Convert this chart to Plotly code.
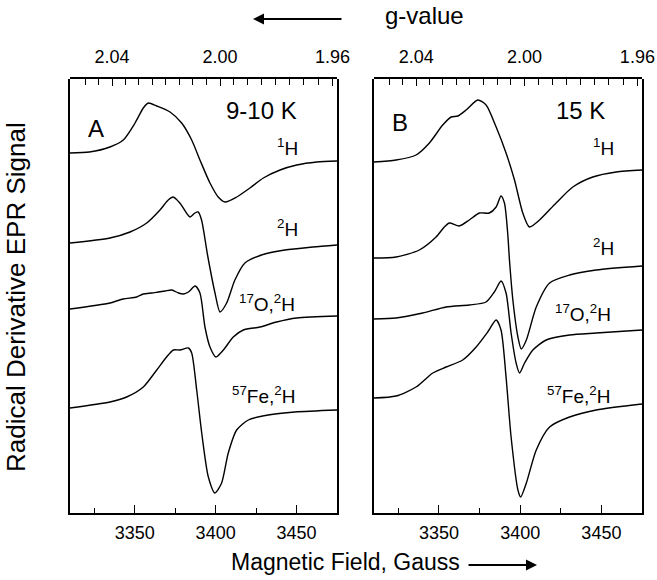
import plotly.graph_objects as go

# ---------------- data ----------------
# Panel A (9-10 K): magnetic field (G) and signal (arb. units, stacked)
A_1H_B = [3310, 3322, 3334.7, 3342.9, 3350.2, 3355.3, 3358.4, 3363.6, 3371.8, 3379.0, 3385.2, 3390.3,
          3396.5, 3401.6, 3405.8, 3413.0, 3421.2, 3429.5, 3439.8, 3450.1, 3462.5, 3475]
A_1H_S = [360, 361, 366, 373, 390, 405, 410, 407, 401, 390, 373, 353, 330, 316, 311, 316, 325, 335,
          343, 348, 351, 352]

A_2H_B = [3310, 3334.7, 3347.1, 3357.4, 3365.6, 3370.7, 3373.8, 3377.9, 3384.1, 3387.2, 3389.2, 3391.3,
          3395.0, 3399.6, 3402.7, 3406.8, 3411.9, 3418.1, 3428.4, 3442.8, 3460, 3475]
A_2H_S = [270, 275, 281, 290, 303, 313, 316, 310, 296, 300, 301, 293, 258, 220, 201, 210, 233,
          250, 258, 263, 266, 268]

A_17O_B = [3310, 3334.7, 3342.9, 3351.2, 3355.3, 3360.5, 3364.6, 3368.8, 3372.9, 3377.0, 3380.1, 3383.2,
           3387.3, 3390.3, 3393.4, 3396.5, 3400.2, 3404.8, 3410.9, 3417.1, 3427.4, 3437.7, 3450.1, 3475]
A_17O_S = [204, 210, 214, 216, 219, 220, 221, 222, 223, 220, 219, 221, 227, 220, 186, 166, 156, 163,
           176, 183, 186, 191, 195, 197]

A_57Fe_B = [3310, 3334.7, 3345.0, 3355.3, 3363.6, 3369.7, 3373.9, 3378.0, 3383.2, 3385.2, 3388.3, 3391.4,
            3395.5, 3399.6, 3403.7, 3407.8, 3413.0, 3420.2, 3432.5, 3449.0, 3475]
A_57Fe_S = [105, 111, 116, 126, 143, 156, 163, 163, 165, 160, 123, 80, 36, 20, 30, 60, 83, 93, 98,
            101, 103]

# Panel B (15 K)
B_1H_B = [3310, 3323.6, 3335.9, 3344.1, 3352.3, 3357.5, 3361.6, 3366.7, 3373.9, 3379.0, 3385.2, 3391.3,
          3396.5, 3401.6, 3405.7, 3411.9, 3422.1, 3432.4, 3444.7, 3459.1, 3475]
B_1H_S = [351, 353, 358, 370, 388, 396, 397, 403, 413, 408, 386, 360, 333, 300, 286, 293, 310, 326,
          336, 341, 343]

B_2H_B = [3310, 3323.6, 3337.9, 3348.2, 3353.3, 3356.4, 3362.5, 3368.7, 3374.9, 3381.0, 3385.2, 3388.2,
          3390.3, 3392.3, 3393.4, 3395.5, 3398.6, 3400.7, 3403.8, 3409.9, 3418.1, 3430.4, 3446.8, 3475]
B_2H_S = [255, 256, 263, 276, 286, 290, 287, 293, 300, 300, 306, 317, 310, 280, 253, 213, 176, 164,
          173, 206, 230, 238, 243, 247]

B_17O_B = [3310, 3323.6, 3340.0, 3354.4, 3368.7, 3379.0, 3384.1, 3388.2, 3391.3, 3394.4, 3397.5, 3399.6,
           3402.7, 3407.8, 3416.0, 3430.4, 3446.8, 3475]
B_17O_S = [194, 195, 200, 206, 208, 211, 221, 232, 220, 180, 150, 140, 150, 163, 173, 178, 180, 183]

B_57Fe_B = [3310, 3323.6, 3335.9, 3346.2, 3354.4, 3364.6, 3372.9, 3380.0, 3385.2, 3388.2, 3391.3, 3394.4,
            3398.6, 3400.3, 3403.8, 3409.9, 3418.1, 3430.4, 3446.8, 3475]
B_57Fe_S = [115, 117, 126, 140, 146, 153, 166, 181, 193, 183, 136, 76, 23, 16, 30, 63, 86, 96, 103, 109]

panel_traces = {
    "A": [(A_1H_B, A_1H_S), (A_2H_B, A_2H_S), (A_17O_B, A_17O_S), (A_57Fe_B, A_57Fe_S)],
    "B": [(B_1H_B, B_1H_S), (B_2H_B, B_2H_S), (B_17O_B, B_17O_S), (B_57Fe_B, B_57Fe_S)],
}

field_range = [3310, 3475]
field_ticks = [3350, 3400, 3450]
field_minor = [3325, 3375, 3425]
g_labels = [2.04, 2.00, 1.96]
g_minor = [2.05, 2.045, 2.035, 2.03, 2.025, 2.02, 2.015, 2.01, 2.005,
           1.995, 1.99, 1.985, 1.98, 1.975, 1.97, 1.965]
g_B_product = 2.04 * 3336.0   # g * B (G) at the microwave frequency used

trace_labels = ["<sup>1</sup>H", "<sup>2</sup>H", "<sup>17</sup>O,<sup>2</sup>H", "<sup>57</sup>Fe,<sup>2</sup>H"]
label_pos = {"A": [(3444.7, 366), (3444.7, 285), (3431.6, 210), (3429.3, 118)],
             "B": [(3451.3, 366), (3451.0, 266), (3438.9, 200), (3435.8, 118)]}
panel_letters = ["A", "B"]
panel_letter_pos = [(3326, 385), (3326, 391)]
temps = ["9-10 K", "15 K"]
temp_pos = [(3428.5, 403), (3437, 403)]

# ---------------- figure ----------------
W, H = 657, 580
L, R, T, Bm = 70, 15, 79, 67
PW, PH = W - L - R, H - T - Bm
fig = go.Figure()

FONT = "Liberation Sans, Arial, sans-serif"
xdom = {"A": [0, 267 / PW], "B": [304 / PW, 1]}
axis_ids = {"A": ("x", "y", "x3", "y3"), "B": ("x2", "y2", "x4", "y4")}

for p in ["A", "B"]:
    xa, ya, xt, yt = axis_ids[p]
    for Bv, Sv in panel_traces[p]:
        fig.add_trace(go.Scatter(x=Bv, y=Sv, mode="lines", xaxis=xa, yaxis=ya,
                                 line=dict(color="black", width=1.4, shape="spline", smoothing=0.7),
                                 showlegend=False, hoverinfo="skip"))
    fig.add_trace(go.Scatter(x=[field_range[0]], y=[None], xaxis=xt, yaxis=yt, mode="lines",
                             showlegend=False, hoverinfo="skip"))

g_tickvals = [g_B_product / g for g in g_labels]
g_ticktext = ["%.2f" % g for g in g_labels]
g_minorvals = [g_B_product / g for g in g_minor]

common_x = dict(range=field_range, showline=True, linecolor="black", linewidth=1.6,
                ticks="inside", ticklen=8, tickwidth=1.4, tickcolor="black", showgrid=False,
                zeroline=False, tickfont=dict(family=FONT, size=18, color="black"),
                tickvals=field_ticks, ticklabelstandoff=3,
                minor=dict(tickvals=field_minor, ticks="inside", ticklen=5, tickwidth=1.4,
                           tickcolor="black", showgrid=False))
common_top = dict(range=field_range, showline=True, linecolor="black", linewidth=1.6,
                  ticks="inside", ticklen=7, tickwidth=1.4, tickcolor="black", showgrid=False,
                  zeroline=False, side="top", tickfont=dict(family=FONT, size=18, color="black"),
                  tickmode="array", tickvals=g_tickvals, ticktext=g_ticktext, ticklabelstandoff=7,
                  minor=dict(tickmode="array", tickvals=g_minorvals, ticks="inside", ticklen=6,
                             tickwidth=1.4, tickcolor="black", showgrid=False))
common_y = dict(range=[0, PH], showline=True, linecolor="black", linewidth=1.6, mirror=True,
                ticks="", showticklabels=False, showgrid=False, zeroline=False, fixedrange=True)
hidden_y = dict(range=[0, 1], showline=False, ticks="", showticklabels=False, showgrid=False,
                zeroline=False, fixedrange=True)

fig.update_layout(
    width=W, height=H, margin=dict(l=L, r=R, t=T, b=Bm, autoexpand=False),
    plot_bgcolor="rgba(0,0,0,0)", paper_bgcolor="white",
    xaxis=dict(domain=xdom["A"], anchor="y", **common_x),
    xaxis2=dict(domain=xdom["B"], anchor="y2", **common_x),
    xaxis3=dict(domain=xdom["A"], anchor="y3", **common_top),
    xaxis4=dict(domain=xdom["B"], anchor="y4", **common_top),
    yaxis=dict(domain=[0, 1], anchor="x", **common_y),
    yaxis2=dict(domain=[0, 1], anchor="x2", **common_y),
    yaxis3=dict(domain=[0, 1], anchor="x3", **hidden_y),
    yaxis4=dict(domain=[0, 1], anchor="x4", **hidden_y),
)


def px(xp):
    return (xp - L) / PW


def py(yp):
    return (H - Bm - yp) / PH


ann = []
for i, p in enumerate(["A", "B"]):
    xa, ya, _, _ = axis_ids[p]
    for lbl, (bv, yv) in zip(trace_labels, label_pos[p]):
        ann.append(dict(x=bv, y=yv, xref=xa, yref=ya, text=lbl, showarrow=False,
                        xanchor="center", yanchor="middle",
                        font=dict(family=FONT, size=19, color="black")))
    ann.append(dict(x=panel_letter_pos[i][0], y=panel_letter_pos[i][1], xref=xa, yref=ya,
                    text=panel_letters[i], showarrow=False, xanchor="center", yanchor="middle",
                    font=dict(family=FONT, size=24, color="black")))
    ann.append(dict(x=temp_pos[i][0], y=temp_pos[i][1], xref=xa, yref=ya, text=temps[i],
                    showarrow=False, xanchor="center", yanchor="middle",
                    font=dict(family=FONT, size=24, color="black")))

ann.append(dict(x=px(424), y=py(16), xref="paper", yref="paper", xanchor="center", yanchor="middle",
                text="g-value", showarrow=False, font=dict(family=FONT, size=24, color="black")))
ann.append(dict(x=px(253), y=py(19), xref="paper", yref="paper",
                ax=90, ay=0, text="", showarrow=True, arrowhead=2, arrowsize=1.1, arrowwidth=2,
                arrowcolor="black"))
ann.append(dict(x=px(345), y=py(562), xref="paper", yref="paper", xanchor="center", yanchor="middle",
                text="Magnetic Field, Gauss", showarrow=False,
                font=dict(family=FONT, size=23, color="black")))
ann.append(dict(x=px(537), y=py(565), xref="paper", yref="paper",
                ax=-70, ay=0, text="", showarrow=True, arrowhead=2, arrowsize=1.1, arrowwidth=2,
                arrowcolor="black"))
ann.append(dict(x=px(16), y=py(297), xref="paper", yref="paper", xanchor="center", yanchor="middle",
                text="Radical Derivative EPR Signal", textangle=-90, showarrow=False,
                font=dict(family=FONT, size=26, color="black")))
fig.update_layout(annotations=ann)

fig.write_html("out.html", config={"displayModeBar": False},
               post_script="document.body.style.margin='0';document.body.style.overflow='hidden';")
